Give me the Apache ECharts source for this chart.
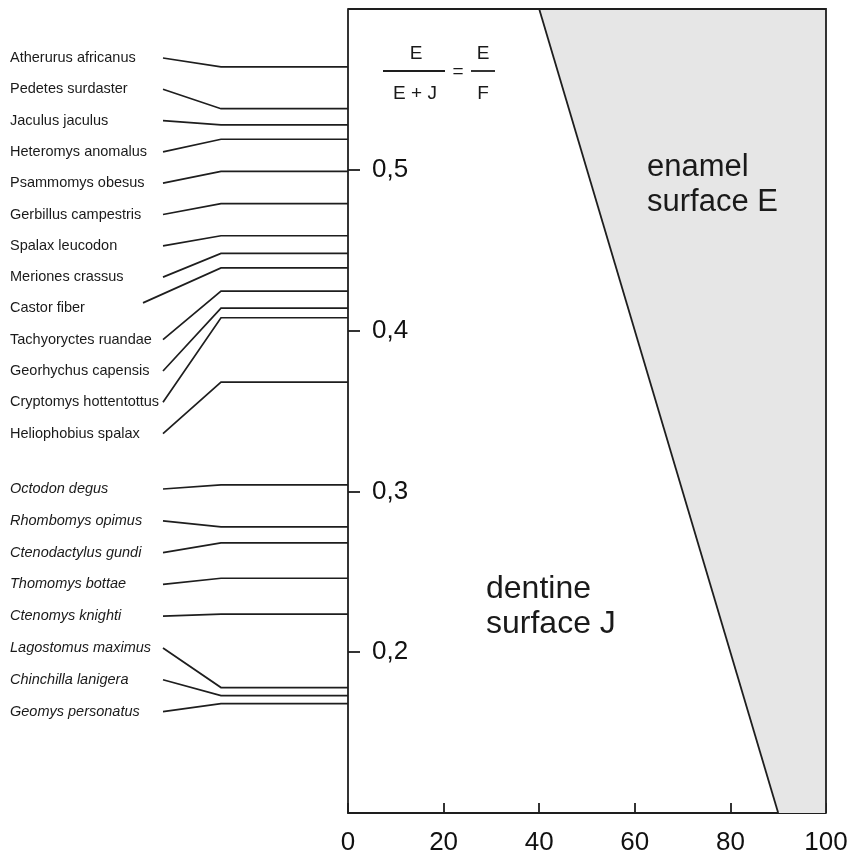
<!DOCTYPE html>
<html>
<head>
<meta charset="utf-8">
<style>
  html, body { margin: 0; padding: 0; background: #fff; }
  #chart { width: 853px; height: 859px; }
</style>
<script src="https://cdn.jsdelivr.net/npm/echarts@6/dist/echarts.min.js"></script>
</head>
<body>
<div id="chart"></div>
<script>
// ---- data ----
const speciesTop = [
  'Atherurus africanus', 'Pedetes surdaster', 'Jaculus jaculus', 'Heteromys anomalus',
  'Psammomys obesus', 'Gerbillus campestris', 'Spalax leucodon', 'Meriones crassus',
  'Castor fiber', 'Tachyoryctes ruandae', 'Georhychus capensis', 'Cryptomys hottentottus',
  'Heliophobius spalax'
];
const valuesTop = [0.564, 0.538, 0.528, 0.519, 0.499, 0.479, 0.459, 0.448, 0.439, 0.4245, 0.414, 0.408, 0.368];

const speciesBottom = [
  'Octodon degus', 'Rhombomys opimus', 'Ctenodactylus gundi', 'Thomomys bottae',
  'Ctenomys knighti', 'Lagostomus maximus', 'Chinchilla lanigera', 'Geomys personatus'
];
const valuesBottom = [0.304, 0.278, 0.268, 0.246, 0.2237, 0.178, 0.173, 0.168];

// enamel / dentine boundary (x = % , y = E/F)
const boundaryX = [40, 90];
const boundaryY = [0.6, 0.1];
const xMin = 0, xMax = 100, yMin = 0.1, yMax = 0.6;

// ---- layout ----
const FONT = '"Liberation Sans", Arial, Helvetica, sans-serif';
const INK = '#1e1e1e';
const slotTop = { start: 58, step: 31.3 };
const slotBottom = { start: 489, step: 31.8 };

const leaderData = [];
speciesTop.forEach((n, i) => leaderData.push({ value: [0, valuesTop[i]], name: n, slot: slotTop.start + i * slotTop.step, italic: false }));
speciesBottom.forEach((n, i) => leaderData.push({ value: [0, valuesBottom[i]], name: n, slot: slotBottom.start + i * slotBottom.step, italic: true }));

const chart = echarts.init(document.getElementById('chart'), null, { renderer: 'canvas' });

const option = {
  animation: false,
  backgroundColor: '#fff',
  grid: { left: 348, right: 27, top: 9, bottom: 46, show: false },
  xAxis: {
    type: 'value', min: xMin, max: xMax, interval: 20,
    axisLine: { show: true, lineStyle: { color: INK, width: 1.8 } },
    axisTick: { show: true, inside: true, length: 10, lineStyle: { color: INK, width: 1.8 } },
    axisLabel: { color: '#111', fontFamily: FONT, fontSize: 26, margin: 17 },
    splitLine: { show: false }
  },
  yAxis: {
    type: 'value', min: yMin, max: yMax, interval: 0.1,
    axisLine: { show: true, lineStyle: { color: INK, width: 1.8 } },
    axisTick: { show: true, inside: true, length: 12, lineStyle: { color: INK, width: 1.8 } },
    axisLabel: {
      inside: true, margin: 24, color: '#111', fontFamily: FONT, fontSize: 26,
      formatter: v => (v > 0.15 && v < 0.55) ? v.toFixed(1).replace('.', ',') : ''
    },
    splitLine: { show: false }
  },
  series: [
    {
      type: 'custom',
      silent: true,
      data: [0],
      renderItem: (params, api) => {
        const p0 = api.coord([boundaryX[0], boundaryY[0]]);
        const p1 = api.coord([boundaryX[1], boundaryY[1]]);
        const tl = api.coord([xMin, yMax]);
        const tr = api.coord([xMax, yMax]);
        const br = api.coord([xMax, yMin]);
        return {
          type: 'group',
          children: [
            { type: 'polygon', shape: { points: [p0, tr, br, p1] }, style: { fill: '#e6e6e6', stroke: null } },
            { type: 'line', shape: { x1: p0[0], y1: p0[1], x2: p1[0], y2: p1[1] }, style: { stroke: INK, lineWidth: 1.8 } },
            { type: 'polyline', shape: { points: [tl, tr, br] }, style: { stroke: INK, lineWidth: 1.8, fill: null } }
          ]
        };
      },
      z: 1
    },
    {
      type: 'custom',
      silent: true,
      clip: false,
      data: leaderData,
      renderItem: (params, api) => {
        const item = leaderData[params.dataIndex];
        const pt = api.coord([api.value(0), api.value(1)]);
        let sx = 163, sy = item.slot;
        if (item.name === 'Castor fiber') { sx = 143; sy = item.slot - 5.5; }
        return {
          type: 'group',
          children: [
            { type: 'polyline', shape: { points: [[sx, sy], [221, pt[1]], [pt[0], pt[1]]] }, style: { stroke: INK, lineWidth: 1.7, fill: null } },
            { type: 'text', style: { text: item.name, x: 10, y: item.slot, align: 'left', verticalAlign: 'middle',
              font: (item.italic ? 'italic ' : '') + '14.5px ' + FONT, fill: '#1a1a1a' } }
          ]
        };
      },
      z: 3
    }
  ],
  graphic: [
    { type: 'text', z: 100, left: 647, top: 150, style: { text: 'enamel\nsurface E', font: '31px ' + FONT, fill: '#1a1a1a', lineHeight: 35 } },
    { type: 'text', z: 100, left: 486, top: 572, style: { text: 'dentine\nsurface J', font: '32px ' + FONT, fill: '#1a1a1a', lineHeight: 35 } },
    // formula
    { type: 'text', z: 100, x: 416, y: 54, style: { text: 'E', font: '19px ' + FONT, fill: '#1a1a1a', align: 'center', verticalAlign: 'middle' } },
    { type: 'line', z: 100, shape: { x1: 383, y1: 71, x2: 445, y2: 71 }, style: { stroke: INK, lineWidth: 1.8 } },
    { type: 'text', z: 100, x: 415, y: 94, style: { text: 'E + J', font: '19px ' + FONT, fill: '#1a1a1a', align: 'center', verticalAlign: 'middle' } },
    { type: 'text', z: 100, x: 458, y: 72, style: { text: '=', font: '19px ' + FONT, fill: '#1a1a1a', align: 'center', verticalAlign: 'middle' } },
    { type: 'text', z: 100, x: 483, y: 54, style: { text: 'E', font: '19px ' + FONT, fill: '#1a1a1a', align: 'center', verticalAlign: 'middle' } },
    { type: 'line', z: 100, shape: { x1: 471, y1: 71, x2: 495, y2: 71 }, style: { stroke: INK, lineWidth: 1.8 } },
    { type: 'text', z: 100, x: 483, y: 94, style: { text: 'F', font: '19px ' + FONT, fill: '#1a1a1a', align: 'center', verticalAlign: 'middle' } }
  ]
};
chart.setOption(option);
</script>
</body>
</html>
